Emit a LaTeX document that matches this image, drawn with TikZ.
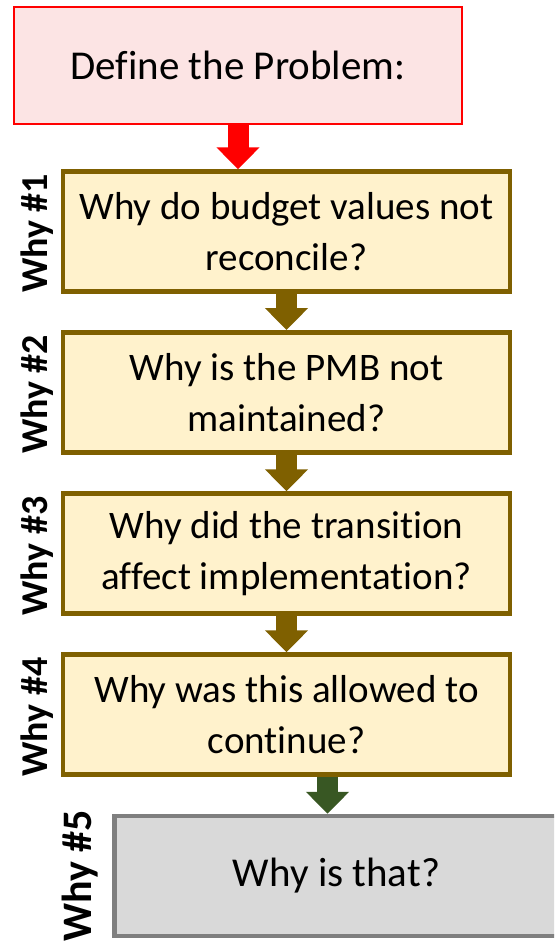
\documentclass[tikz,border=0pt]{standalone}
\usepackage{fontspec}
\setmainfont{Carlito}[Ligatures={NoCommon}]
\usetikzlibrary{arrows.meta}
\definecolor{pinkfill}{HTML}{FCE4E4}
\definecolor{brownline}{HTML}{7F6000}
\definecolor{goldfill}{HTML}{FFF2CC}
\definecolor{grayfill}{HTML}{D9D9D9}
\definecolor{grayline}{HTML}{7F7F7F}
\definecolor{darkgreen}{HTML}{385723}
\tikzset{
  txt/.style={font=\fontsize{39}{51}\selectfont, align=center, text=black, inner sep=0pt},
  defbox/.style={txt, font=\fontsize{41}{51}\selectfont, draw=red, line width=1.8pt, fill=pinkfill, minimum width=448pt, minimum height=117pt},
  whybox/.style={txt, draw=brownline, line width=4.5pt, fill=goldfill, minimum width=447pt, minimum height=120pt},
  lastbox/.style={txt, font=\fontsize{41}{51}\selectfont, draw=grayline, line width=4.5pt, fill=grayfill, minimum width=444pt, minimum height=120pt},
  whylabel/.style={font=\fontsize{38}{46}\selectfont\bfseries, rotate=90, inner sep=0pt, text=black},
  fatarrow/.style={line width=21pt, -{Triangle[width=42pt,length=22pt]}},
}
\begin{document}
\begin{tikzpicture}[x=1pt, y=-1pt]
\useasboundingbox (0,0) rectangle (554,942);
\clip (0,0) rectangle (554,942);
\node[defbox] (def) at (238,65.5) {Define the Problem:};
\node[whybox] (b1) at (286.5,231.5) {Why do budget values not\\reconcile?};
\node[whybox] (b2) at (286.5,392.25) {Why is the PMB not\\maintained?};
\node[whybox] (b3) at (286.5,553.5) {Why did the transition\\affect implementation?};
\node[whybox] (b4) at (286.5,714.5) {Why was this allowed to\\continue?};
\node[lastbox] (b5) at (336.5,876) {Why is that?};
\node[whylabel] (l1) at (37,233.5) {Why \#1};
\node[whylabel] (l2) at (37,394.5) {Why \#2};
\node[whylabel] (l3) at (37,556) {Why \#3};
\node[whylabel] (l4) at (37,717) {Why \#4};
\node[whylabel, font=\fontsize{42}{50}\selectfont\bfseries] (l5) at (80,876) {Why \#5};
\coordinate (g) at (327.5,0);
\draw[fatarrow, red] (def.south) -- (b1.north -| def.south);
\draw[fatarrow, brownline] (b1.south) -- (b2.north);
\draw[fatarrow, brownline] (b2.south) -- (b3.north);
\draw[fatarrow, brownline] (b3.south) -- (b4.north);
\draw[fatarrow, darkgreen] (b4.south -| g) -- (b5.north -| g);
\end{tikzpicture}
\end{document}
